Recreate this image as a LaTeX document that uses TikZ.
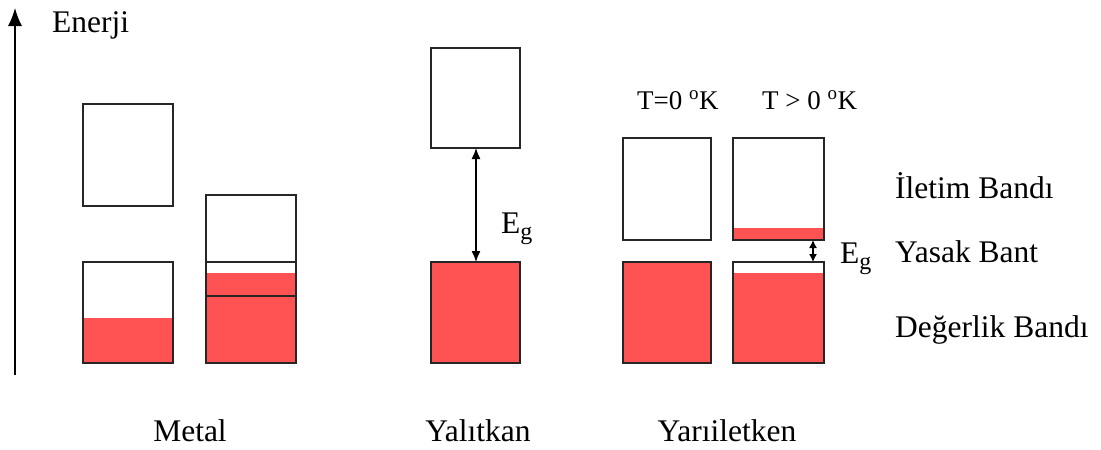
\documentclass[tikz,border=0pt]{standalone}
\usepackage{fontspec}
\setmainfont{Liberation Serif}
\usetikzlibrary{arrows.meta}
\definecolor{bantkirmizi}{RGB}{255,82,82}
\newcommand{\altg}{\raisebox{-6pt}{\fontsize{24}{24}\selectfont g}}
\tikzset{
  bant/.style={draw=black!85, line width=1.2pt},
  dolu/.style={fill=bantkirmizi},
  yazi/.style={inner sep=0pt, font=\fontsize{31.5}{36}\selectfont},
  baslik/.style={inner sep=0pt, font=\fontsize{27}{32}\selectfont},
  ok/.style={line width=1.3pt, {Latex[length=11pt,width=9pt]}-{Latex[length=11pt,width=9pt]}},
  okkisa/.style={line width=1.3pt, {Latex[length=8pt,width=8pt]}-{Latex[length=8pt,width=8pt]}}
}
\begin{document}
\begin{tikzpicture}[x=1pt,y=-1pt]  % ------ Enerji bantlari -----------
\useasboundingbox (0,0) rectangle (1101,450);
    % enerji ekseni
    \coordinate (E0) at (15,375);
    \coordinate (E1) at (15,8);
    \draw[line width=1.3pt,-{Latex[length=18pt,width=14pt]}] (E0) -- (E1);
    \node[yazi,anchor=base west] (enerji) at (52,32) {Enerji};
    % metal
    \draw[bant] (83,104) rectangle (173,206);
    \fill[dolu] (83,318) rectangle (173,363);
    \draw[bant] (83,262) rectangle (173,363);
    \fill[dolu] (206,273) rectangle (296,363);
    \draw[bant] (206,195) rectangle (296,363);
    \draw[bant] (206,262) -- (296,262);
    \draw[bant] (206,296) -- (296,296);
    \node[yazi,anchor=base] (metal) at (190,441) {Metal};
    % yalitkan
    \coordinate (Y1) at (476,148);
    \coordinate (Y2) at (476,262);
    \draw[bant] (431,48) rectangle (520,148);
    \draw[bant,dolu] (431,262) rectangle (520,363);
    \draw[ok] (Y1) -- (Y2);
    \node[yazi,anchor=base west] (egY) at (501,233) {E\altg};
    \node[yazi,anchor=base] (yalitkan) at (478,441) {Yalıtkan};
    % yariiletken
    \coordinate (S1) at (813,240);
    \coordinate (S2) at (813,262);
    \draw[bant] (623,138) rectangle (711,240);
    \draw[bant,dolu] (623,262) rectangle (711,363);
    \fill[dolu] (733,228) rectangle (824,240);
    \draw[bant] (733,138) rectangle (824,240);
    \fill[dolu] (733,273) rectangle (824,363);
    \draw[bant] (733,262) rectangle (824,363);
    \draw[okkisa] (S1) -- (S2);
    \node[yazi,anchor=base west] (egS) at (840,263) {E\altg};
    \node[baslik,anchor=base west] (t0) at (637,109) {T=0 \textsuperscript{o}K};
    \node[baslik,anchor=base west] (t1) at (762,109) {T > 0 \textsuperscript{o}K};
    \node[yazi,anchor=base] (yariiletken) at (727,441) {Yarıiletken};
    % bant adlari
    \node[yazi,anchor=base west] (iletim) at (895,198) {İletim Bandı};
    \node[yazi,anchor=base west] (yasak) at (895,262) {Yasak Bant};
    \node[yazi,anchor=base west] (degerlik) at (895,337) {Değerlik Bandı};
\end{tikzpicture}
\end{document}
